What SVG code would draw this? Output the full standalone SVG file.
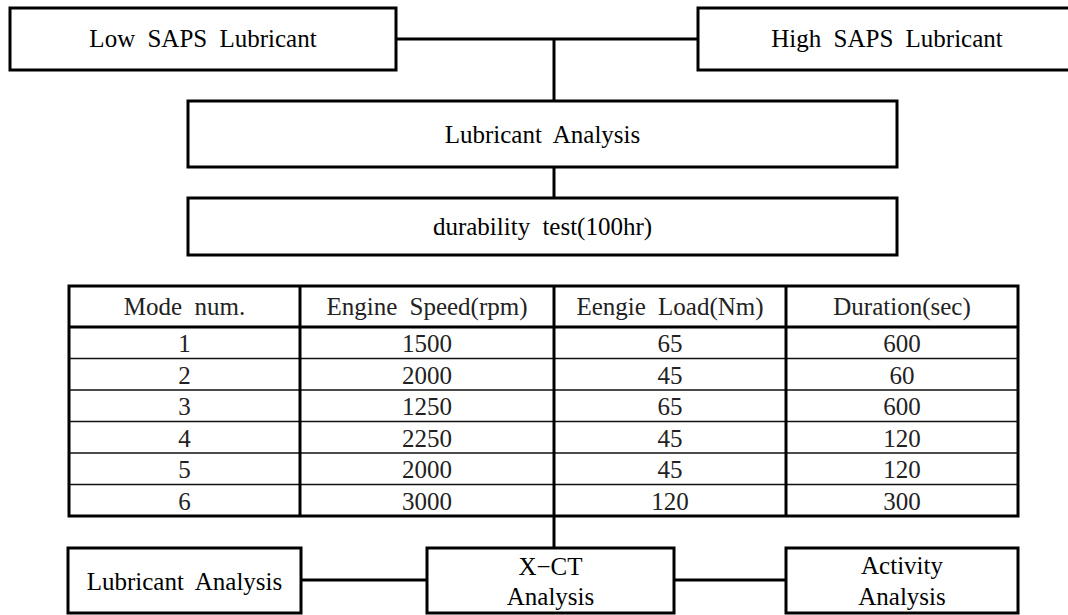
<svg xmlns="http://www.w3.org/2000/svg" width="1068" height="615" viewBox="0 0 1068 615">
<style>
.box{fill:#fff;stroke:#000;stroke-width:3}
.lbl{font-family:"Liberation Serif","Times New Roman",serif;font-size:25px;fill:#000;text-anchor:middle;word-spacing:6px}
.cell{font-family:"Liberation Serif","Times New Roman",serif;font-size:25px;fill:#222;text-anchor:middle;word-spacing:6px}
.conn{stroke:#000;stroke-width:3;fill:none}
.thin{stroke:#111;stroke-width:1.5}
.thick{stroke:#000;stroke-width:3}
</style>
<rect width="1068" height="615" fill="#fff"/>
<g id="connectors">
<line class="conn" x1="396" y1="39" x2="698" y2="39"/>
<line class="conn" x1="554" y1="39" x2="554" y2="101"/>
<line class="conn" x1="554" y1="167" x2="554" y2="198"/>
<line class="conn" x1="554" y1="516" x2="554" y2="548"/>
<line class="conn" x1="301" y1="580" x2="427" y2="580"/>
<line class="conn" x1="674" y1="580" x2="786" y2="580"/>
</g>
<g id="low-saps">
<rect class="box" x="10" y="8" width="386" height="62"/>
<text class="lbl" x="203" y="47">Low SAPS Lubricant</text>
</g>
<g id="high-saps">
<rect class="box" x="698" y="8" width="380" height="62"/>
<text class="lbl" x="887" y="47">High SAPS Lubricant</text>
</g>
<g id="lubricant-analysis-top">
<rect class="box" x="188" y="101" width="709" height="66"/>
<text class="lbl" x="542.5" y="143">Lubricant Analysis</text>
</g>
<g id="durability-test">
<rect class="box" x="188" y="198" width="709" height="57"/>
<text class="lbl" x="542.5" y="235">durability test(100hr)</text>
</g>
<g id="mode-table">
<rect x="69" y="286" width="949" height="230" fill="#fff" stroke="#000" stroke-width="3"/>
<line class="thick" x1="69" y1="327" x2="1018" y2="327" stroke-width="2.5"/>
<line class="thin" x1="69" y1="358.5" x2="1018" y2="358.5"/>
<line class="thin" x1="69" y1="390" x2="1018" y2="390"/>
<line class="thin" x1="69" y1="421.5" x2="1018" y2="421.5"/>
<line class="thin" x1="69" y1="453" x2="1018" y2="453"/>
<line class="thin" x1="69" y1="484.5" x2="1018" y2="484.5"/>
<line class="thick" x1="300" y1="286" x2="300" y2="516"/>
<line class="thick" x1="554" y1="286" x2="554" y2="516"/>
<line class="thick" x1="786" y1="286" x2="786" y2="516"/>
<text class="cell" x="184.5" y="315">Mode num.</text>
<text class="cell" x="427" y="315">Engine Speed(rpm)</text>
<text class="cell" x="670" y="315">Eengie Load(Nm)</text>
<text class="cell" x="902" y="315">Duration(sec)</text>
<text class="cell" x="184.5" y="352">1</text><text class="cell" x="427" y="352">1500</text><text class="cell" x="670" y="352">65</text><text class="cell" x="902" y="352">600</text>
<text class="cell" x="184.5" y="383.5">2</text><text class="cell" x="427" y="383.5">2000</text><text class="cell" x="670" y="383.5">45</text><text class="cell" x="902" y="383.5">60</text>
<text class="cell" x="184.5" y="415">3</text><text class="cell" x="427" y="415">1250</text><text class="cell" x="670" y="415">65</text><text class="cell" x="902" y="415">600</text>
<text class="cell" x="184.5" y="446.5">4</text><text class="cell" x="427" y="446.5">2250</text><text class="cell" x="670" y="446.5">45</text><text class="cell" x="902" y="446.5">120</text>
<text class="cell" x="184.5" y="478">5</text><text class="cell" x="427" y="478">2000</text><text class="cell" x="670" y="478">45</text><text class="cell" x="902" y="478">120</text>
<text class="cell" x="184.5" y="509.5">6</text><text class="cell" x="427" y="509.5">3000</text><text class="cell" x="670" y="509.5">120</text><text class="cell" x="902" y="509.5">300</text>
</g>
<g id="lubricant-analysis-bottom">
<rect class="box" x="68" y="548" width="233" height="65"/>
<text class="lbl" x="184.5" y="590">Lubricant Analysis</text>
</g>
<g id="xct-analysis">
<rect class="box" x="427" y="548" width="247" height="65"/>
<text class="lbl" x="550.5" y="575">X−CT</text>
<text class="lbl" x="550.5" y="605">Analysis</text>
</g>
<g id="activity-analysis">
<rect class="box" x="786" y="548" width="232" height="65"/>
<text class="lbl" x="902" y="574">Activity</text>
<text class="lbl" x="902" y="605">Analysis</text>
</g>
</svg>
